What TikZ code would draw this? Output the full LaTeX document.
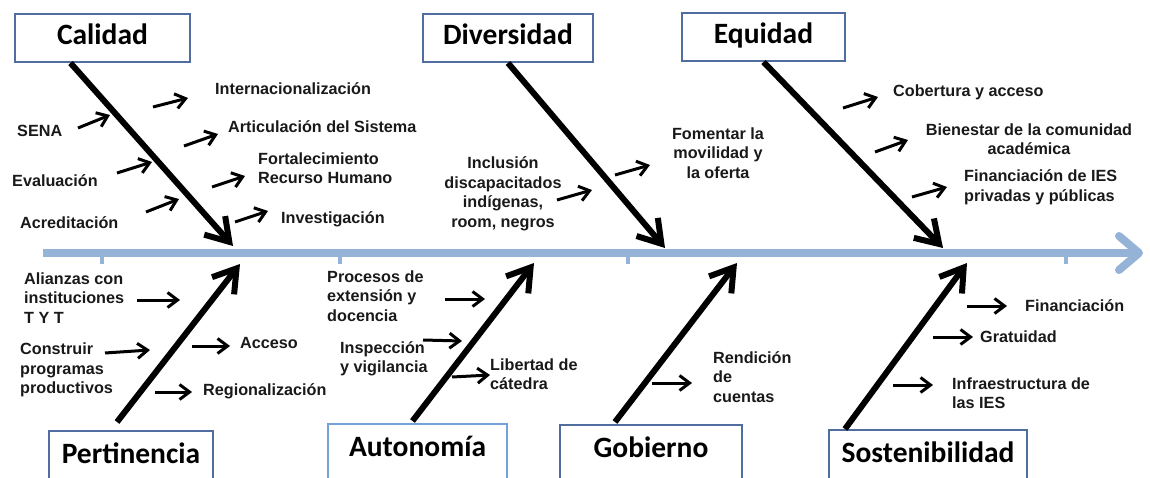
\documentclass[tikz,border=0pt]{standalone}
\usepackage{fontspec}
\setmainfont{Liberation Sans}
\newfontfamily\titlefont{Carlito}
\usetikzlibrary{arrows.meta}
\usetikzlibrary{positioning}
\definecolor{boxblue}{RGB}{79,109,158}
\definecolor{paleblue}{RGB}{116,160,220}
\definecolor{spineblue}{RGB}{149,179,215}

\begin{document}
\begin{tikzpicture}[x=1pt,y=-1pt]

	\tikzset{TopBoxStyle/.style = {draw=boxblue, line width=2pt, fill=white,
			font=\titlefont\bfseries\fontsize{29.5}{31}\selectfont,
			text height=19pt, text depth=5pt, inner ysep=12pt, anchor=base}}
	\tikzset{BottomBoxStyle/.style = {TopBoxStyle, text depth=25pt, inner ysep=13pt}}
	\tikzset{LabelStyle/.style = {inner sep=0pt, text=black!90,
			font=\bfseries\fontsize{16.2}{19.5}\selectfont}}
	\tikzset{SpineStyle/.style = {spineblue, line width=8pt,
			-{Straight Barb[length=20pt,width=34pt,round]}}}
	\tikzset{BoneStyle/.style = {line width=6pt,
			-{Straight Barb[length=22pt,width=28pt]}}}
	\tikzset{TwigStyle/.style = {line width=3pt,
			-{Straight Barb[length=10pt,width=15pt]}}}

	\useasboundingbox (0,0) rectangle (1150,478);

	% spine
	\coordinate (spinestart) at (43,253);
	\coordinate (spineend) at (1143,253);
	\draw[SpineStyle] (spinestart) -- (spineend);
	\foreach \x in {102,340,628,1066}
		\draw[spineblue, line width=4pt] (\x,256) -- (\x,264);

	% category boxes
	\node[TopBoxStyle, minimum width=175pt] (calidad) at (102.5,45) {Calidad};
	\node[TopBoxStyle, minimum width=170pt] (diversidad) at (508,45) {Diversidad};
	\node[TopBoxStyle, minimum width=163pt] (equidad) at (763.5,44) {Equidad};
	\node[BottomBoxStyle, minimum width=164pt] (pertinencia) at (131,463) {Pertinencia};
	\node[BottomBoxStyle, minimum width=179pt, draw=paleblue] (autonomia) at (417.5,456) {Autonom\'ia};
	\node[BottomBoxStyle, minimum width=182pt] (gobierno) at (651,457) {Gobierno};
	\node[BottomBoxStyle, minimum width=198pt] (sostenibilidad) at (928,462) {Sostenibilidad};

	% bones
	\coordinate (calidadtip) at (233,246);
	\coordinate (diversidadtip) at (665,248);
	\coordinate (equidadtip) at (943,248);
	\coordinate (pertinenciatip) at (240,264);
	\coordinate (autonomiatip) at (534,263);
	\coordinate (gobiernotip) at (737,263);
	\coordinate (sostenibilidadtip) at (967,263);
	\draw[BoneStyle] ([xshift=-32pt]calidad.south) -- (calidadtip);
	\draw[BoneStyle] (diversidad.south) -- (diversidadtip);
	\draw[BoneStyle] (equidad.south) -- (equidadtip);
	\draw[BoneStyle] ([xshift=-14pt,yshift=8pt]pertinencia.north) -- (pertinenciatip);
	\draw[BoneStyle] ([xshift=-5pt,yshift=2pt]autonomia.north) -- (autonomiatip);
	\draw[BoneStyle] ([xshift=-36pt,yshift=2pt]gobierno.north) -- (gobiernotip);
	\draw[BoneStyle] ([xshift=-83pt]sostenibilidad.north) -- (sostenibilidadtip);

	% causes
	\node[LabelStyle, anchor=west] (sena) at (17,131) {SENA};
	\node[LabelStyle, anchor=west] (evaluacion) at (12,181) {Evaluaci\'on};
	\node[LabelStyle, anchor=west] (acreditacion) at (20,223) {Acreditaci\'on};
	\node[LabelStyle, anchor=west] (internacional) at (215,89) {Internacionalizaci\'on};
	\node[LabelStyle, anchor=west] (articulacion) at (228,127) {Articulaci\'on del Sistema};
	\node[LabelStyle, anchor=west, align=left] (fortalecimiento) at (258,168) {Fortalecimiento\\Recurso Humano};
	\node[LabelStyle, anchor=west] (investigacion) at (281,219) {Investigaci\'on};

	\node[LabelStyle, align=center] (inclusion) at (503,194) {Inclusi\'on\\discapacitados\\ind\'igenas,\\room, negros};
	\node[LabelStyle, align=center] (fomentar) at (718,153) {Fomentar la\\movilidad y\\la oferta};

	\node[LabelStyle, anchor=west] (cobertura) at (893,92) {Cobertura y acceso};
	\node[LabelStyle, align=center] (bienestar) at (1029,139) {Bienestar de la comunidad\\acad\'emica};
	\node[LabelStyle, anchor=west, align=left] (financiacionies) at (964,187) {Financiaci\'on de IES\\privadas y p\'ublicas};

	\node[LabelStyle, anchor=west, align=left] (alianzas) at (24,298) {Alianzas con\\instituciones\\T Y T};
	\node[LabelStyle, anchor=west, align=left] (construir) at (20,370) {Construir\\programas\\productivos};
	\node[LabelStyle, anchor=west] (acceso) at (240,343) {Acceso};
	\node[LabelStyle, anchor=west] (regional) at (203,391) {Regionalizaci\'on};

	\node[LabelStyle, anchor=west, align=left] (procesos) at (327,296) {Procesos de\\extensi\'on y\\docencia};
	\node[LabelStyle, anchor=west, align=left] (inspeccion) at (340,359) {Inspecci\'on\\y vigilancia};
	\node[LabelStyle, anchor=west, align=left] (libertad) at (490,374) {Libertad de\\c\'atedra};

	\node[LabelStyle, anchor=west, align=left] (rendicion) at (713,377) {Rendici\'on\\de\\cuentas};

	\node[LabelStyle, anchor=west] (financiacion) at (1025,306) {Financiaci\'on};
	\node[LabelStyle, anchor=west] (gratuidad) at (980,337) {Gratuidad};
	\node[LabelStyle, anchor=west, align=left] (infraestructura) at (952,393) {Infraestructura de\\las IES};

	% small arrows
	\foreach \n/\t/\h in {a/{78,128}/{110,115}, b/{153,107}/{188,98},
			c/{117,173}/{152,162}, d/{184,146}/{218,134}, e/{212,187}/{245,176},
			f/{146,212}/{179,199}, g/{235,222}/{268,211}, h/{557,200}/{592,190},
			i/{615,175}/{650,165}, j/{843,108}/{878,97}, k/{875,152}/{908,140},
			l/{912,197}/{947,187}, m/{137,300}/{180,300}, n/{105,353}/{150,350},
			o/{192,346}/{230,346}, p/{155,392}/{192,392}, q/{445,299}/{485,299},
			r/{423,340}/{462,341}, s/{452,377}/{490,375}, t/{652,383}/{692,383},
			u/{967,306}/{1007,306}, v/{933,337}/{973,337}, w/{893,385}/{933,385}}
	{
		\coordinate (twig\n) at (\t);
		\coordinate (tip\n) at (\h);
		\draw[TwigStyle] (twig\n) -- (tip\n);
	}

\end{tikzpicture}
\end{document}
